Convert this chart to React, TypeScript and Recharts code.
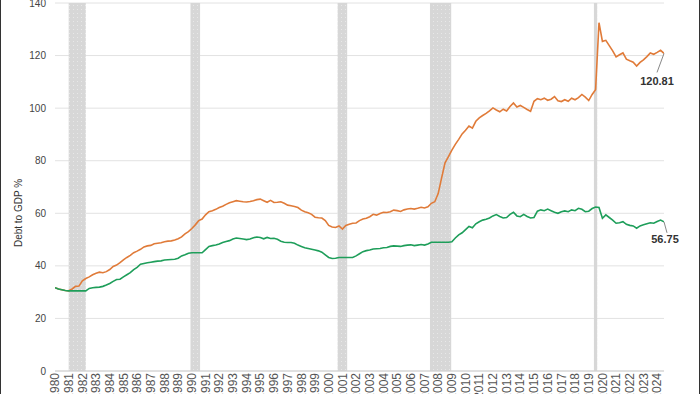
import React from 'react';
import { LineChart, Line, XAxis, YAxis, CartesianGrid, ReferenceArea, LabelList } from 'recharts';

const START_YEAR = 1980;
const STEP = 0.25;

const totalDebt: number[] = [
  31.7, 31.2, 30.9, 30.6,
  30.5, 31.2, 32.2, 32.3,
  34.3, 35.2, 35.8, 36.6,
  37.2, 37.6, 37.4, 37.8,
  38.6, 39.8, 40.3, 41.2,
  42.3, 43.2, 44.0, 45.0,
  45.6, 46.3, 47.2, 47.6,
  47.8, 48.4, 48.6, 48.8,
  49.2, 49.4, 49.5, 49.8,
  50.3, 51.0, 52.2, 53.0,
  54.2, 55.6, 57.2, 57.8,
  59.4, 60.6, 61.0, 61.5,
  62.2, 62.7, 63.4, 64.0,
  64.4, 64.8, 64.6, 64.4,
  64.3, 64.5, 64.8, 65.2,
  65.4, 64.8, 64.2, 64.9,
  64.1, 64.2, 64.4, 63.8,
  63.1, 62.9, 62.6, 62.2,
  61.2, 60.6, 60.2, 59.6,
  58.5, 58.3, 58.2, 57.2,
  55.4, 54.8, 54.6, 55.2,
  54.0, 55.4, 55.8, 56.2,
  56.3, 57.2, 57.8, 58.1,
  58.7, 59.6, 59.3, 59.9,
  60.4, 60.3, 60.6, 61.2,
  61.0, 60.7, 61.3, 61.6,
  61.8, 61.6, 61.9, 62.3,
  62.0, 62.5, 63.8, 64.4,
  67.5, 73.5, 79.2, 81.6,
  84.0, 86.2, 88.1, 90.2,
  91.6, 93.2, 92.4, 95.0,
  96.3, 97.2, 98.0, 99.0,
  100.1, 99.3, 98.6, 99.6,
  98.9, 100.6, 102.0, 100.4,
  101.0, 100.3, 99.5, 98.8,
  102.6, 103.6, 103.2, 103.8,
  103.0, 103.4, 104.4, 102.8,
  102.5, 103.2, 102.6, 103.8,
  103.2, 104.0, 105.2, 104.2,
  102.9, 105.2, 107.0, 132.5,
  125.4, 125.8, 123.8, 121.8,
  119.5, 120.3, 121.0, 118.6,
  118.0, 117.5, 116.0, 117.4,
  118.4, 119.6, 121.0, 120.5,
  121.2, 122.0, 120.81,
];

const publicDebt: number[] = [
  31.7, 31.2, 30.9, 30.6,
  30.5, 30.5, 30.5, 30.5,
  30.5, 30.5, 31.4, 31.7,
  31.8, 31.9, 32.2, 32.7,
  33.3, 34.1, 34.8, 34.9,
  35.8, 36.6, 37.4, 38.6,
  39.4, 40.6, 40.9, 41.2,
  41.4, 41.6, 41.8, 41.9,
  42.2, 42.3, 42.4, 42.5,
  42.9, 43.8, 44.2, 44.8,
  45.0, 45.0, 45.0, 45.0,
  46.2, 47.4, 47.7, 47.9,
  48.3, 48.9, 49.3, 49.6,
  50.2, 50.6, 50.4, 50.2,
  50.0, 50.2, 50.7, 51.0,
  50.8, 50.3, 50.8, 50.4,
  50.5, 50.1, 49.4, 49.0,
  48.9, 48.9, 48.6, 47.9,
  47.4, 46.9, 46.6, 46.3,
  46.0, 45.7, 45.2, 44.2,
  43.2, 42.8, 42.9, 43.2,
  43.2, 43.2, 43.2, 43.2,
  43.8, 44.6, 45.4, 45.8,
  46.0, 46.4, 46.5, 46.6,
  46.9, 47.0, 47.4, 47.6,
  47.5, 47.4, 47.7, 47.9,
  48.0, 47.7, 47.9, 48.1,
  47.9, 48.3, 49.0, 49.0,
  49.0, 49.0, 49.0, 49.0,
  49.2, 50.6, 51.8, 52.6,
  53.8, 55.0, 54.5, 56.0,
  56.8, 57.4, 57.7, 58.2,
  59.0, 59.5, 58.8, 58.2,
  58.4, 59.6, 60.4, 59.0,
  58.7, 59.6, 58.8, 58.2,
  58.4, 60.8, 61.3, 61.0,
  61.6, 61.0, 60.4, 60.0,
  60.6, 60.9, 60.6, 61.3,
  61.0, 61.9, 61.5, 60.6,
  60.8, 61.8, 62.4, 62.2,
  58.1, 59.4, 58.4, 57.4,
  56.2, 56.4, 56.8, 55.8,
  55.4, 55.2, 54.3, 55.2,
  55.6, 56.0, 56.4, 56.2,
  56.9, 57.4, 56.75,
];

const yearTicks: number[] = [];
for (let y = 1980; y <= 2024; y++) yearTicks.push(y);

const yTicks: number[] = [0, 20, 40, 60, 80, 100, 120, 140];

const recessions: [number, number][] = [
  [1981.0, 1982.25],
  [1989.9, 1990.6],
  [2000.65, 2001.35],
  [2007.4, 2008.95],
  [2019.38, 2019.62],
];

const data = totalDebt.map((v, i) => ({
  x: START_YEAR + i * STEP,
  total: v,
  pub: publicDebt[i],
}));

const LAST = data.length - 1;
const FONT = '"Liberation Sans", Arial, Helvetica, sans-serif';

const XTick = (props: any) => {
  const { x, payload } = props;
  const y = 373;
  return (
    <text
      x={x}
      y={y}
      transform={`rotate(-90 ${x} ${y})`}
      textAnchor="end"
      dy="0.35em"
      fontSize={12}
      fontFamily={FONT}
      fill="#555"
    >
      {payload.value}
    </text>
  );
};

const YTick = (props: any) => {
  const { y, payload } = props;
  return (
    <text x={46} y={y} dy="0.35em" textAnchor="end" fontSize={10} fontFamily={FONT} fill="#444">
      {payload.value}
    </text>
  );
};

const makeEndLabel = (dx1: number, dy1: number, tx: number, ty: number) => (props: any) => {
  const { x, y, index, value } = props;
  if (index !== LAST) return null;
  return (
    <g>
      <line x1={x} y1={y} x2={x + dx1} y2={y + dy1} stroke="#888" strokeWidth={1} />
      <text
        x={x + tx}
        y={y + ty}
        textAnchor="middle"
        fontSize={11}
        fontWeight="bold"
        fontFamily={FONT}
        fill="#333"
      >
        {value}
      </text>
    </g>
  );
};

const YLabel = () => (
  <text
    x={18}
    y={213}
    transform="rotate(-90 18 213)"
    textAnchor="middle"
    dy="0.35em"
    fontSize={10}
    fontFamily={FONT}
    fill="#333"
  >
    Debt to GDP %
  </text>
);

export default function App() {
  return (
    <div style={{ position: 'absolute', left: 0, top: 0, width: 700, height: 394, background: '#fff', overflow: 'hidden' }}>
      <LineChart width={700} height={394} data={data} margin={{ top: 3, right: 36, bottom: 0, left: 0 }}>
        <defs>
          <pattern id="recPat" width="4" height="4" patternUnits="userSpaceOnUse">
            <rect width="4" height="4" fill="#d7d7d7" />
            <rect x="1" y="1" width="1" height="1" fill="#e8e8e8" />
          </pattern>
        </defs>
        <CartesianGrid vertical={false} stroke="#e2e2e2" />
        {recessions.map(([a, b], i) => (
          <ReferenceArea key={i} x1={a} x2={b} y1={0} y2={140} fill="url(#recPat)" fillOpacity={1} stroke="none" ifOverflow="hidden" />
        ))}
        <XAxis
          dataKey="x"
          type="number"
          domain={[1980, 2024.5]}
          ticks={yearTicks}
          interval={0}
          tick={<XTick />}
          tickLine={false}
          axisLine={{ stroke: '#cfcfcf' }}
          height={23}
          allowDataOverflow
        />
        <YAxis
          type="number"
          domain={[0, 140]}
          ticks={yTicks}
          tick={<YTick />}
          tickLine={false}
          axisLine={false}
          width={55}
          interval={0}
          label={<YLabel />}
        />
        <Line
          type="linear"
          dataKey="total"
          stroke="#e07b39"
          strokeWidth={1.6}
          dot={false}
          isAnimationActive={false}
        >
          <LabelList dataKey="total" content={makeEndLabel(-7, 19, -7, 32)} />
        </Line>
        <Line
          type="linear"
          dataKey="pub"
          stroke="#1e9e5a"
          strokeWidth={1.6}
          dot={false}
          isAnimationActive={false}
        >
          <LabelList dataKey="pub" content={makeEndLabel(3, 11, 1, 21)} />
        </Line>
      </LineChart>
      <div style={{ position: 'absolute', left: 0, top: 0, width: 1, height: 394, background: '#333' }} />
      <div style={{ position: 'absolute', left: 699, top: 0, width: 1, height: 394, background: '#333' }} />
    </div>
  );
}
